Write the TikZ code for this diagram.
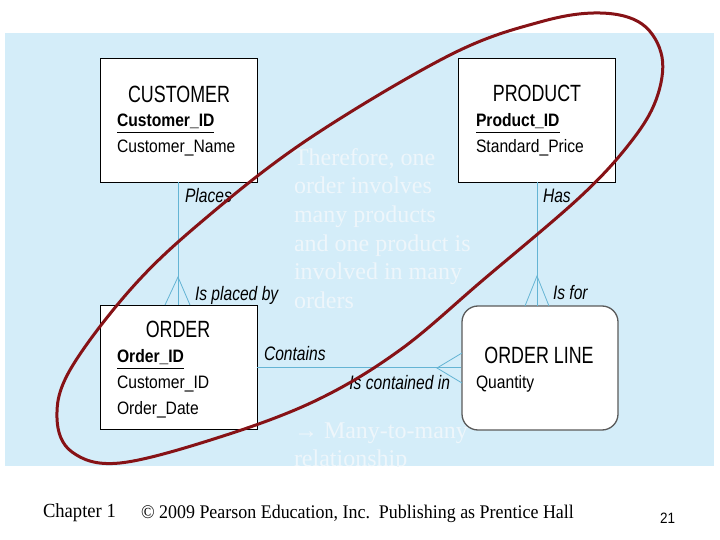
\documentclass[tikz,border=0pt]{standalone}
\usepackage{fontspec}
\setmainfont{Liberation Serif}
\newfontfamily\titlef[FakeStretch=0.76]{Liberation Sans}
\newfontfamily\attrf[FakeStretch=0.87]{Liberation Sans}
\newfontfamily\labf[FakeStretch=0.8]{Liberation Sans}
\newfontfamily\footf[FakeStretch=0.93]{Liberation Serif}
\newfontfamily\numf[FakeStretch=0.9]{Liberation Sans}
\definecolor{bgblue}{RGB}{212,237,249}
\definecolor{connc}{RGB}{100,180,212}
\definecolor{ovalred}{RGB}{134,18,22}
\definecolor{ghost}{RGB}{238,246,251}
\definecolor{olgray}{RGB}{90,90,90}
\begin{document}
\begin{tikzpicture}[x=1pt,y=-1pt,
  entbox/.style={draw=black, line width=0.9pt, fill=white, minimum width=157pt, minimum height=124pt, inner sep=0pt},
  olbox/.style={draw=olgray, line width=1.3pt, fill=white, rounded corners=16pt, minimum width=156pt, minimum height=124pt, inner sep=0pt},
  txt/.style={inner sep=0pt, outer sep=0pt},
  ttl/.style={txt, anchor=base, font=\titlef\fontsize{23.5}{27}\selectfont},
  attr/.style={txt, anchor=base west, font=\attrf\fontsize{18}{21}\selectfont},
  pk/.style={txt, anchor=base west, font=\attrf\bfseries\fontsize{18}{21}\selectfont},
  lab/.style={txt, anchor=base west, font=\labf\itshape\fontsize{19.5}{23}\selectfont},
  conn/.style={draw=connc, line width=0.8pt},
  ghosttxt/.style={txt, anchor=base west, align=left, text=ghost, font=\fontsize{24}{28.7}\selectfont},
  ulin/.style={draw=black, line width=0.8pt}
]
\useasboundingbox (0,0) rectangle (720,540);
\fill[bgblue] (5,33) rectangle (714,466);

% entity boxes
\node[entbox] (cust) at (178.5,120) {};
\node[entbox] (prod) at (536.5,120) {};
\node[entbox] (ord) at (178.5,367.5) {};
\node[olbox] (ol) at (540,368) {};

% connectors
\draw[conn] (cust.south) -- (ord.north);
\coordinate (cfA) at (178,277);
\coordinate (cfL) at (165,305);
\coordinate (cfR) at (190,305);
\draw[conn] (cfL) -- (cfA) -- (cfR);

\coordinate (pb) at (537,182);
\coordinate (pt) at (537,306);
\draw[conn] (pb) -- (pt);
\coordinate (pfA) at (537,276);
\coordinate (pfL) at (525,306);
\coordinate (pfR) at (549,306);
\draw[conn] (pfL) -- (pfA) -- (pfR);

\draw[conn] (ord.east) -- (ord.east -| ol.west);
\coordinate (ofA) at (437,368);
\coordinate (ofT) at (462,353);
\coordinate (ofB) at (462,383);
\draw[conn] (ofT) -- (ofA) -- (ofB);

% connector labels
\node[lab] (lPlaces) at (185,203) {Places};
\node[lab] (lPlacedBy) at (195,300) {Is placed by};
\node[lab] (lHas) at (543,203) {Has};
\node[lab] (lIsFor) at (553,299) {Is for};
\node[lab] (lContains) at (264,360) {Contains};
\node[lab, anchor=base east] (lContained) at (450,389) {Is contained in};

% CUSTOMER
\node[ttl] (custT) at (179,103) {CUSTOMER};
\node[pk] (custPK) at (117,127) {Customer\_ID};
\draw[ulin] ([yshift=-5pt]custPK.base west) -- ([yshift=-5pt]custPK.base east);
\node[attr] (custA) at (117,153) {Customer\_Name};

% PRODUCT
\node[ttl] (prodT) at (537,102) {PRODUCT};
\node[pk] (prodPK) at (476,127) {Product\_ID};
\draw[ulin] ([yshift=-5pt]prodPK.base west) -- ([yshift=-5pt]prodPK.base east);
\node[attr] (prodA) at (476,153) {Standard\_Price};

% ORDER
\node[ttl] (ordT) at (178,337) {ORDER};
\node[pk] (ordPK) at (117,362) {Order\_ID};
\draw[ulin] ([yshift=-6pt]ordPK.base west) -- ([yshift=-6pt]ordPK.base east);
\node[attr] (ordA1) at (117,388) {Customer\_ID};
\node[attr] (ordA2) at (117,414) {Order\_Date};

% ORDER LINE
\node[ttl] (olT) at (539,363) {ORDER LINE};
\node[attr] (olA) at (476,388) {Quantity};

% ghost text (base anchor = last line)
\node[ghosttxt] (note1) at (294,308.5) {Therefore, one\\order involves\\many products\\and one product is\\involved in many\\orders};
\begin{scope}
\clip (5,33) rectangle (714,466);
\node[ghosttxt] (note2) at (294,466.7) {→ Many-to-many\\relationship};
\end{scope}

% red oval
\draw[ovalred, line width=3pt] plot[smooth cycle, tension=0.6] coordinates {
 (600,13) (642,24) (662,57) (656,100) (630,143) (580,197) (483,280)
 (400,350) (317,400) (220,437) (120,463) (72,452) (57,418)
 (70,370) (130,290) (200,223) (307,140) (450,55) (540,22)};

% footer
\node[txt, anchor=base west, font=\footf\fontsize{20}{24}\selectfont] (chap) at (43,517) {Chapter 1};
\node[txt, anchor=base west, font=\footf\fontsize{19.3}{23}\selectfont] (copy) at (141,518) {© 2009 Pearson Education, Inc.\ \ Publishing as Prentice Hall};
\node[txt, anchor=base west, font=\numf\fontsize{15}{18}\selectfont] (pg) at (660,523) {21};
\end{tikzpicture}
\end{document}
